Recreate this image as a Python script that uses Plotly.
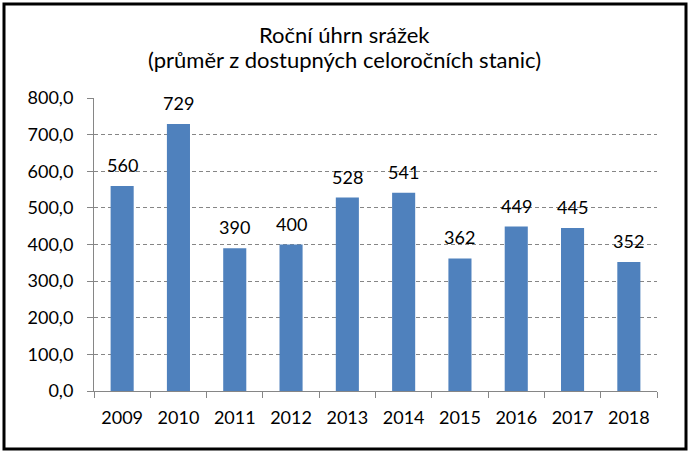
import plotly.graph_objects as go

years = ["2009", "2010", "2011", "2012", "2013", "2014", "2015", "2016", "2017", "2018"]
values = [560, 729, 390, 400, 528, 541, 362, 449, 445, 352]
labels = ["560", "729", "390", "400", "528", "541", "362", "449", "445", "352"]
title_lines = ["Roční úhrn srážek", "(průměr z dostupných celoročních stanic)"]

FONT = "Lato"
W, H = 690, 452
L, R, T, B = 94, 33, 98, 61
pw, ph = W - L - R, H - T - B

def px(x):
    return (x - L) / pw

def py(y):
    return (H - B - y) / ph

fig = go.Figure()
fig.add_trace(go.Bar(
    x=years, y=values,
    marker=dict(color="#4F81BD", line=dict(width=0)),
    hoverinfo="x+y",
))

annotations = []
for i, (v, lab) in enumerate(zip(values, labels)):
    annotations.append(dict(x=i, y=v, xref="x", yref="y", text=lab, showarrow=False,
                            yanchor="bottom", yshift=8,
                            font=dict(family=FONT, size=18, color="#000000")))
for line, cy in zip(title_lines, [34, 59]):
    annotations.append(dict(x=px(344), xref="paper", y=py(cy), yref="paper", text=line,
                            showarrow=False, xanchor="center", yanchor="middle",
                            font=dict(family=FONT, size=22, color="#000000")))

fig.update_layout(
    width=W, height=H,
    margin=dict(l=L, r=R, t=T, b=B),
    paper_bgcolor="white", plot_bgcolor="white",
    separators=", ",
    bargap=0.59,
    showlegend=False,
    font=dict(family=FONT, size=18, color="#000000"),
    annotations=annotations,
    xaxis=dict(type="category", categoryorder="array", categoryarray=years,
               range=[-0.5, len(years) - 0.5], tickangle=0,
               tickson="boundaries", ticks="outside", ticklen=6,
               tickcolor="#868686", showline=True, linecolor="#868686", linewidth=1,
               showgrid=False, ticklabelstandoff=10, tickfont=dict(family=FONT, size=18)),
    yaxis=dict(range=[0, 800], dtick=100, tickformat=".1f", ticks="outside", ticklen=6,
               tickcolor="#868686", showline=True, linecolor="#868686", linewidth=1,
               showgrid=True, gridcolor="#868686", griddash="4px,3px", gridwidth=1,
               zeroline=False, ticklabelstandoff=10, tickfont=dict(family=FONT, size=18)),
    shapes=[dict(type="rect", xref="paper", yref="paper",
                 x0=px(4), x1=px(686), y0=py(449), y1=py(4),
                 line=dict(color="#000000", width=3), fillcolor="rgba(0,0,0,0)")],
)

fig.write_html("out.html")
